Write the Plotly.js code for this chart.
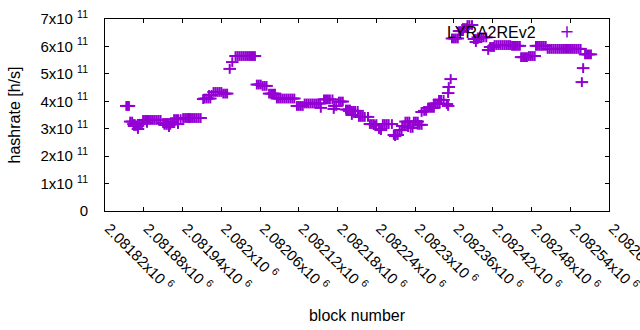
<!DOCTYPE html>
<html><head><meta charset="utf-8">
<script src="https://cdn.plot.ly/plotly-3.0.1.min.js"></script>
<style>html,body{margin:0;padding:0;background:#fff}#chart{width:640px;height:330px}</style>
</head><body><div id="chart"></div>
<script>
const seriesName = "LYRA2REv2";
const blockNumber = [
2081853,2081855,2081857,
2081859,2081862,
2081864,2081866,
2081865,2081868,2081871,
2081871,
2081874,2081877,
2081879,2081882,2081885,2081888,2081891,2081894,2081897,2081900,2081903,2081906,
2081885,
2081910,2081913,2081916,
2081912,2081915,2081918,2081921,
2081919,
2081922,2081925,
2081927,2081930,2081933,2081937,
2081933,
2081941,2081944,2081947,2081950,2081953,2081956,2081959,2081962,2081965,2081968,
2081972,
2081974,2081977,2081980,2081983,
2081981,2081985,
2081988,2081991,2081994,2081997,2082000,
2082003,2082006,2082009,
2082013,
2082017,
2082022,2082025,2082028,2082031,2082034,2082037,2082040,2082043,2082046,2082049,2082052,
2082055,2082058,2082061,
2082064,2082067,2082070,
2082074,2082077,2082080,2082083,
2082086,2082089,2082092,2082095,2082098,2082101,2082104,2082107,2082110,2082113,
2082117,2082120,2082123,2082126,
2082129,2082132,2082135,2082138,2082141,2082144,2082147,2082150,2082153,
2082154,
2082159,2082162,2082165,2082168,2082172,
2082174,
2082175,2082178,
2082182,2082185,2082188,
2082193,2082196,2082199,
2082198,2082201,2082204,2082207,2082211,
2082202,
2082213,2082216,2082219,2082222,2082227,
2082230,2082233,2082236,2082240,
2082238,
2082244,2082247,
2082247,
2082250,2082253,2082256,2082259,2082264,
2082269,
2082267,2082270,2082273,
2082276,2082279,
2082280,2082283,
2082285,2082288,2082291,
2082289,
2082293,2082296,
2082298,2082301,2082304,
2082304,2082307,2082310,
2082310,
2082314,2082317,
2082320,2082323,2082326,2082329,
2082329,2082332,2082335,2082338,
2082337,2082340,2082344,
2082349,2082351,2082351,2082352,2082355,
2082357,2082360,2082363,2082366,
2082368,2082371,2082374,
2082374,2082377,2082380,
2082381,2082384,2082388,
2082391,2082394,2082397,
2082394,
2082397,2082400,2082403,2082406,2082410,
2082413,
2082416,2082419,2082422,
2082423,2082426,2082429,2082432,2082435,2082438,2082441,2082444,2082447,
2082450,2082453,2082456,2082459,2082462,
2082464,2082467,2082470,2082473,
2082476,2082479,2082482,2082485,
2082487,2082490,2082493,2082496,2082499,2082502,
2082505,2082508,2082511,2082514,2082517,2082520,2082523,2082526,2082529,2082532,2082535,2082538,2082541,2082544,2082547,2082550,2082553,2082556,
2082558,2082560,
2082563,2082566,2082569,2082572
];
const hashrate = [
383e9,383e9,383e9,
326e9,326e9,
317e9,317e9,
310e9,310e9,310e9,
299e9,
317e9,317e9,
332e9,332e9,332e9,332e9,332e9,332e9,332e9,332e9,332e9,332e9,
321e9,
321e9,321e9,321e9,
314e9,314e9,314e9,314e9,
306e9,
324e9,324e9,
335e9,335e9,335e9,335e9,
317e9,
339e9,339e9,339e9,339e9,339e9,339e9,339e9,339e9,339e9,339e9,
408e9,
410e9,410e9,410e9,410e9,
423e9,423e9,
434e9,434e9,434e9,434e9,434e9,
428e9,428e9,428e9,
518e9,
543e9,
565e9,565e9,565e9,565e9,565e9,565e9,565e9,565e9,565e9,565e9,565e9,
461e9,461e9,461e9,
456e9,456e9,456e9,
428e9,428e9,428e9,428e9,
410e9,410e9,410e9,410e9,410e9,410e9,410e9,410e9,410e9,410e9,
383e9,383e9,383e9,383e9,
392e9,392e9,392e9,392e9,392e9,392e9,392e9,392e9,392e9,
376e9,
407e9,407e9,407e9,407e9,407e9,
372e9,
383e9,383e9,
399e9,399e9,399e9,
370e9,370e9,370e9,
365e9,365e9,365e9,365e9,365e9,
350e9,
343e9,343e9,343e9,343e9,343e9,
317e9,317e9,317e9,317e9,
312e9,
299e9,299e9,
295e9,
317e9,317e9,317e9,317e9,317e9,
273e9,
277e9,277e9,277e9,
295e9,295e9,
310e9,310e9,
326e9,326e9,326e9,
306e9,
303e9,303e9,
326e9,326e9,326e9,
314e9,314e9,314e9,
361e9,
365e9,365e9,
376e9,376e9,376e9,376e9,
392e9,392e9,392e9,392e9,
405e9,405e9,405e9,
390e9,383e9,430e9,452e9,481e9,
629e9,629e9,629e9,629e9,
656e9,656e9,656e9,
667e9,667e9,667e9,
678e9,678e9,678e9,
627e9,627e9,627e9,
616e9,
633e9,633e9,633e9,633e9,633e9,
587e9,
598e9,598e9,598e9,
605e9,605e9,605e9,605e9,605e9,605e9,605e9,605e9,605e9,
602e9,602e9,602e9,602e9,602e9,
561e9,561e9,561e9,561e9,
565e9,565e9,565e9,565e9,
602e9,602e9,602e9,602e9,602e9,602e9,
591e9,591e9,591e9,591e9,591e9,591e9,591e9,591e9,591e9,591e9,591e9,591e9,591e9,591e9,591e9,591e9,591e9,591e9,
470e9,521e9,
571e9,571e9,571e9,571e9
];
const xTickVals = [2081820,2081880,2081940,2082000,2082060,2082120,2082180,2082240,2082300,2082360,2082420,2082480,2082540,2082600];
const xTickText = ["2.08182x10 <sup>6</sup>","2.08188x10 <sup>6</sup>","2.08194x10 <sup>6</sup>","2.082x10 <sup>6</sup>","2.08206x10 <sup>6</sup>","2.08212x10 <sup>6</sup>","2.08218x10 <sup>6</sup>","2.08224x10 <sup>6</sup>","2.0823x10 <sup>6</sup>","2.08236x10 <sup>6</sup>","2.08242x10 <sup>6</sup>","2.08248x10 <sup>6</sup>","2.08254x10 <sup>6</sup>","2.0826x10 <sup>6</sup>"];
const yTickVals = [0,1e11,2e11,3e11,4e11,5e11,6e11,7e11];
const yTickText = ["0","1x10 <sup>11</sup>","2x10 <sup>11</sup>","3x10 <sup>11</sup>","4x10 <sup>11</sup>","5x10 <sup>11</sup>","6x10 <sup>11</sup>","7x10 <sup>11</sup>"];

const col = '#9400d3';
const traces = [
  {x: blockNumber, y: hashrate, type: 'scatter', mode: 'markers', showlegend: false, hoverinfo: 'skip',
   marker: {symbol: 'line-ew', size: 9, color: col, line: {color: col, width: 2}}},
  {x: blockNumber, y: hashrate, type: 'scatter', mode: 'markers', showlegend: false, hoverinfo: 'skip',
   marker: {symbol: 'line-ns', size: 7, color: col, line: {color: col, width: 2}}},
  {x: [null], y: [null], type: 'scatter', mode: 'markers', name: ' ', showlegend: true,
   marker: {symbol: 'cross-thin', size: 8, color: col, line: {color: col, width: 1.5}}}
];
const axisCommon = {
  showline: true, linecolor: '#000', linewidth: 1, mirror: 'allticks',
  ticks: 'inside', ticklen: 4, tickcolor: '#000', tickwidth: 1,
  showgrid: false, zeroline: false, fixedrange: true
};
const layout = {
  width: 640, height: 330,
  margin: {l: 105, r: 31, t: 19, b: 119, pad: 0},
  paper_bgcolor: '#fff', plot_bgcolor: '#fff',
  font: {family: 'Liberation Sans, Arial, sans-serif', size: 15, color: '#000'},
  showlegend: true,
  xaxis: Object.assign({}, axisCommon, {
    range: [2081820, 2082600], tickmode: 'array', tickvals: xTickVals, ticktext: xTickText,
    tickangle: 45, ticklabelstandoff: 2, ticklabelshift: 4, ticklabeloverflow: 'allow',
    title: {text: 'block number', font: {size: 16}, standoff: 16}
  }),
  yaxis: Object.assign({}, axisCommon, {
    range: [0, 7e11], tickmode: 'array', tickvals: yTickVals, ticktext: yTickText,
    ticklabelstandoff: 13,
    title: {text: 'hashrate [h/s]', font: {size: 16}, standoff: 15}
  }),
  legend: {x: 0.877, y: 0.932, xanchor: 'left', yanchor: 'middle', bgcolor: 'rgba(0,0,0,0)', borderwidth: 0, font: {size: 15}},
  annotations: [{text: seriesName, xref: 'paper', yref: 'paper', x: 0.8591, y: 0.932,
    xanchor: 'right', yanchor: 'middle', showarrow: false, font: {size: 16, color: '#000'}}]
};
Plotly.newPlot('chart', traces, layout, {staticPlot: true, displayModeBar: false});
</script>
</body></html>
